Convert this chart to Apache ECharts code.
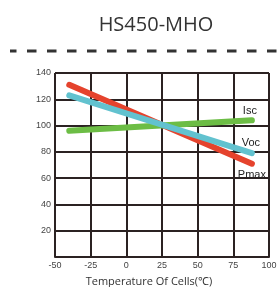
<!DOCTYPE html>
<html><head><meta charset="utf-8">
<script src="https://cdn.jsdelivr.net/npm/echarts@6/dist/echarts.min.js"></script>
<style>html,body{margin:0;padding:0;background:#fff}#c{width:279px;height:287px}</style>
</head><body><div id="c"></div>
<script>
var title = 'HS450-MHO';
var xName = 'Temperature Of Cells(℃)';
var xTicks = [-50, -25, 0, 25, 50, 75, 100];
var yTicks = [20, 40, 60, 80, 100, 120, 140];
var xStart = -40, xEnd = 88;
var pmax = [[xStart, 131], [xEnd, 71]];
var voc = [[xStart, 123], [xEnd, 79]];
var isc = [[xStart, 96], [xEnd, 104]];
var seriesNames = ['Pmax', 'Isc', 'Voc'];

var chart = echarts.init(document.getElementById('c'));
var gridColor = '#2b2222';
function mk(name, data, color, pos, off) {
  return {
    name: name, type: 'line', data: data.map(function (d, i) {
      return i === data.length - 1 ? { value: d, label: { show: true, formatter: name, position: pos, offset: off } } : d;
    }),
    symbol: 'circle', symbolSize: 0, showSymbol: true,
    lineStyle: { color: color, width: 6, cap: 'round' },
    itemStyle: { color: color },
    label: { show: false, color: '#222', fontSize: 11, fontFamily: 'Liberation Sans' },
    animation: false
  };
}
chart.setOption({
  animation: false,
  title: { text: title, left: 151, top: 10, textAlign: 'center',
    textStyle: { fontFamily: 'Open Sans', fontWeight: 'normal', fontSize: 20, color: '#333' } },
  grid: { left: 55, right: 10, top: 73, bottom: 30, containLabel: false, outerBoundsMode: 'none' },
  xAxis: {
    type: 'value', min: xTicks[0], max: xTicks[xTicks.length - 1], interval: 25,
    name: xName, nameLocation: 'middle', nameGap: 19,
    nameTextStyle: { fontFamily: 'Open Sans', fontSize: 11, color: '#333', padding: [0, 26, 0, 0] },
    axisLine: { show: true, lineStyle: { color: gridColor, width: 2 } },
    axisTick: { show: false },
    axisLabel: { color: '#444', fontSize: 9, fontFamily: 'Liberation Sans', margin: 4 },
    splitLine: { show: true, lineStyle: { color: gridColor, width: 2 } }
  },
  yAxis: {
    type: 'value', min: 0, max: yTicks[yTicks.length - 1], interval: 20,
    axisLine: { show: true, lineStyle: { color: gridColor, width: 2 } },
    axisTick: { show: false },
    axisLabel: { color: '#444', fontSize: 9, fontFamily: 'Liberation Sans', margin: 4,
      formatter: function (v) { return yTicks.indexOf(v) >= 0 ? String(v) : ''; } },
    splitLine: { show: true, lineStyle: { color: gridColor, width: 2 } }
  },
  series: [
    mk(seriesNames[0], pmax, '#e5432d', 'bottom', [0, 1]),
    mk(seriesNames[1], isc, '#6cbd45', 'top', [-2, 1]),
    mk(seriesNames[2], voc, '#62c2cf', 'top', [-1, 0])
  ],
  graphic: [{
    type: 'line', shape: { x1: 10, y1: 51, x2: 279, y2: 51 },
    style: { stroke: '#333', lineWidth: 3, lineDash: [9.5, 10.5], lineDashOffset: 3 }
  }]
});
</script></body></html>
